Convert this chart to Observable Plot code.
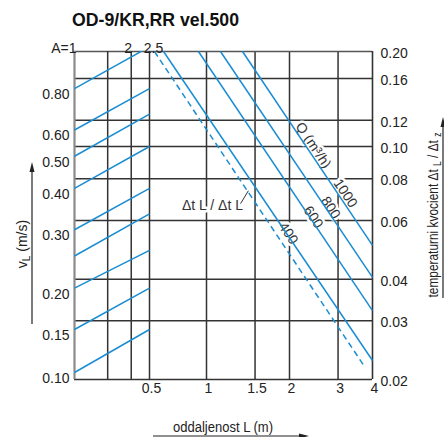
<!DOCTYPE html>
<html><head><meta charset="utf-8">
<script src="https://cdn.jsdelivr.net/npm/d3@7"></script>
<script src="https://cdn.jsdelivr.net/npm/@observablehq/plot@0.6"></script>
<style>
body{margin:0;background:#fff;}
#wrap{position:relative;width:444px;height:437px;font-family:"Liberation Sans",Arial,sans-serif;}
#wrap > svg{position:absolute;left:0;top:0;}
</style></head><body><div id="wrap"></div>
<script>
// ---- data ----
const aTickValues = [1, 2, 2.5];
const aTickLabels = ["A=1", "2", "2.5"];
const aGrid = [1.5, 2, 2.5];
const vTicks = [0.1, 0.15, 0.2, 0.3, 0.4, 0.5, 0.6, 0.8];
const vStart = [0.1, 0.15, 0.2, 0.25, 0.3, 0.4, 0.5, 0.6, 0.8];   // v_L at A = 1
const vEnd   = [0.15, 0.2, 0.26, 0.335, 0.40, 0.535, 0.67, 0.8, 1.07]; // at A = 2.5
const lTicks = [0.5, 1, 1.5, 2, 3, 4];
const lGrid = [1, 1.5, 2, 3];
const rTicks = [0.02, 0.03, 0.04, 0.06, 0.08, 0.10, 0.12, 0.16, 0.20];
const rGrid = [0.03, 0.04, 0.06, 0.08, 0.10, 0.12, 0.16];
const qValues = [400, 600, 800, 1000];
const qTopL = [0.593, 0.907, 1.124, 1.351];     // L where each Q line meets ratio 0.20
const qEndRatio = [0.0228, 0.0322, 0.0405, 0.0505]; // ratio at L = 4
const dashTopL = [0.531];
const dashEndL = [3.71];
const dashEndRatio = [0.0221];
const qLabelL = [1.98, 2.44, 2.82, 3.19];
const qLabelRatio = [0.0549, 0.0614, 0.0655, 0.0724];
const unitLabel = ["Q (m³/h)"];
const unitL = [2.44];
const unitRatio = [0.1008];
const dtLabelL = [1.051];
const dtLabelRatio = [0.0666];
const leaderL = [1.329, 1.419];
const leaderRatio = [0.0674, 0.0737];

const W = 444, H = 437, mL = 74, mT = 51, mR = 72, mB = 58;
const BLUE = "#1a8dd2", GRID = "#333";
const font = {fontFamily: "'Liberation Sans', Arial, sans-serif", fontSize: "14px", background: "transparent", color: "#222"};

const xL = {type: "log", domain: [0.5, 1, 4], range: [149, 206, 372]};
const yR = {type: "log", domain: [0.02, 0.16, 0.2], range: [379, 78, 51]};

const idx = d3.range(qValues.length);
const plotB = Plot.plot({
  width: W, height: H, marginLeft: mL, marginTop: mT, marginRight: mR, marginBottom: mB,
  style: font,
  x: xL, y: yR,
  marks: [
    Plot.ruleY(rGrid, {stroke: GRID, strokeWidth: 1.5}),
    Plot.ruleX(lGrid, {stroke: GRID, strokeWidth: 1.5}),
    Plot.ruleY([0.2], {stroke: "#555", strokeWidth: 1.6}),
    Plot.ruleY([0.02], {stroke: "#333", strokeWidth: 1.6}),
    Plot.ruleX([4], {stroke: "#333", strokeWidth: 1.6}),
    Plot.text(idx, {x: i => qLabelL[i], y: i => qLabelRatio[i], text: i => String(qValues[i]), rotate: 56,
      fontSize: 14, fill: "#333", stroke: "white", strokeWidth: 5, paintOrder: "stroke"}),
    Plot.text([0], {x: i => unitL[i], y: i => unitRatio[i], text: i => unitLabel[i], rotate: 56,
      fontSize: 14, fill: "#333", stroke: "white", strokeWidth: 5, paintOrder: "stroke"}),
    Plot.text([0], {x: i => dtLabelL[i], y: i => dtLabelRatio[i], text: () => "Δt L / Δt L", ariaLabel: "dtlabel",
      fontSize: 14, fill: "#333", stroke: "white", strokeWidth: 5, paintOrder: "stroke"}),
    Plot.link([0], {x1: () => leaderL[0], y1: () => leaderRatio[0], x2: () => leaderL[1], y2: () => leaderRatio[1],
      stroke: "#333", strokeWidth: 1}),
    Plot.link(idx, {x1: i => qTopL[i], y1: () => 0.2, x2: () => 4, y2: i => qEndRatio[i], stroke: BLUE, strokeWidth: 1.5}),
    Plot.link([0], {x1: i => dashTopL[i], y1: () => 0.2, x2: i => dashEndL[i], y2: i => dashEndRatio[i],
      stroke: BLUE, strokeWidth: 1.5, strokeDasharray: "6,4"}),
    Plot.axisY(rTicks, {anchor: "right", tickSize: 0, tickPadding: 8, dy: 2, fontSize: 14, label: null,
      tickFormat: d => d.toFixed(2)}),
    Plot.text(lTicks, {x: d => d, text: d => String(d), frameAnchor: "bottom", dy: 13, dx: 2,
      fontSize: 14, fill: "#222"}),
    Plot.axisX([], {label: null})
  ]
});

const vIdx = d3.range(vStart.length);
const plotA = Plot.plot({
  width: W, height: H, marginLeft: mL, marginTop: mT, marginRight: mR, marginBottom: mB,
  style: font,
  x: {type: "log", domain: [1, 2.5], range: [74, 149]},
  y: {type: "log", domain: [0.1, 0.15, 1], range: [372, 329, 56]},
  marks: [
    Plot.ruleX(aGrid, {stroke: GRID, strokeWidth: 1.5}),
    Plot.ruleX([1], {stroke: "#8a8a8a", strokeWidth: 2.2}),
    Plot.link(vIdx, {x1: () => 1, y1: i => vStart[i], x2: () => 2.5, y2: i => vEnd[i],
      stroke: BLUE, strokeWidth: 1.5, clip: true}),
    Plot.axisY(vTicks, {anchor: "left", tickSize: 0, tickPadding: 5, dy: 6, fontSize: 14, label: null,
      tickFormat: d => d.toFixed(2)}),
    Plot.text([0], {x: i => aTickValues[i], text: i => aTickLabels[i], frameAnchor: "top", dy: -8, dx: 2,
      textAnchor: "end", fontSize: 14, fill: "#222"}),
    Plot.text([1], {x: i => aTickValues[i], text: i => aTickLabels[i], frameAnchor: "top", dy: -8, dx: -3,
      textAnchor: "middle", fontSize: 14, fill: "#222"}),
    Plot.text([2], {x: i => aTickValues[i], text: i => aTickLabels[i], frameAnchor: "top", dy: -8, dx: 4,
      textAnchor: "middle", fontSize: 14, fill: "#222"}),
    Plot.axisX([], {label: null})
  ]
});

const wrap = document.getElementById("wrap");
wrap.appendChild(plotB);
wrap.appendChild(plotA);

// subscripts in the in-plot label
const NS = "http://www.w3.org/2000/svg";
plotB.querySelectorAll('g[aria-label="dtlabel"] text').forEach(t => {
  t.textContent = "";
  const parts = [["Δt ", 0, 14], ["L", 4, 10], [" / Δt ", -4, 14], ["L", 4, 10]];
  for (const [s, dy, fs] of parts) {
    const ts = document.createElementNS(NS, "tspan");
    ts.setAttribute("font-size", fs);
    if (dy) ts.setAttribute("dy", dy);
    ts.textContent = s; t.appendChild(ts);
  }
});

// titles and axis arrows
const ov = `
<svg width="444" height="437" xmlns="${NS}" font-family="'Liberation Sans', Arial, sans-serif" fill="#222" style="pointer-events:none">
  <text x="72" y="26" font-size="18" font-weight="bold" textLength="167" lengthAdjust="spacingAndGlyphs" fill="#111">OD-9/KR,RR vel.500</text>
  <text transform="translate(27,244) rotate(-90)" text-anchor="middle" font-size="14">v<tspan font-size="10" dy="3">L</tspan><tspan dy="-3"> (m/s)</tspan></text>
  <line x1="32" y1="324" x2="32" y2="170" stroke="#222" stroke-width="1.2"/>
  <polygon points="32,162 29.5,172 34.5,172" fill="#222"/>
  <text transform="translate(438,215) rotate(-90)" text-anchor="middle" font-size="14" textLength="165" lengthAdjust="spacingAndGlyphs">temperaturni kvocient Δt <tspan font-size="10" dy="3">L</tspan><tspan dy="-3"> / Δt </tspan><tspan font-size="10" dy="3">z</tspan></text>
  <line x1="443" y1="298" x2="443" y2="126" stroke="#222" stroke-width="1.2"/>
  <polygon points="443,117 440.5,127 445.5,127" fill="#222"/>
  <text x="223" y="432" text-anchor="middle" font-size="14" textLength="100" lengthAdjust="spacingAndGlyphs">oddaljenost L (m)</text>
  <line x1="153" y1="436" x2="300" y2="436" stroke="#222" stroke-width="1.2"/>
  <polygon points="309,436 299,433.5 299,438.5" fill="#222"/>
</svg>`;
wrap.insertAdjacentHTML("beforeend", ov);
</script></body></html>
